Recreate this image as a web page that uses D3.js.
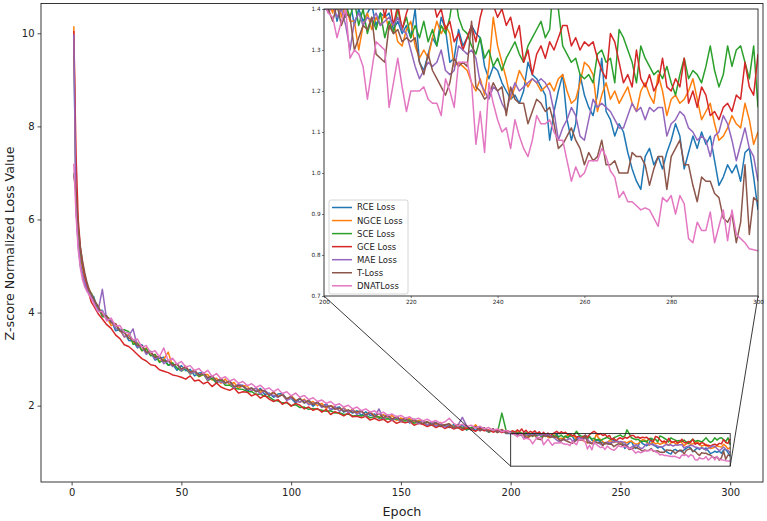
<!DOCTYPE html>
<html>
<head>
<meta charset="utf-8">
<script src="https://cdn.jsdelivr.net/npm/d3@7"></script>
<style>
body { margin: 0; background: #fff; }
text { font-family: "DejaVu Sans", sans-serif; fill: #222; }
</style>
</head>
<body>
<svg id="chart" width="767" height="521"></svg>
<script>
// legend names and matplotlib tab10 colours
var seriesNames = ["RCE Loss", "NGCE Loss", "SCE Loss", "GCE Loss", "MAE Loss", "T-Loss", "DNATLoss"];
var seriesColors = ["#1f77b4", "#ff7f0e", "#2ca02c", "#d62728", "#9467bd", "#8c564b", "#e377c2"];

// epochs 1-10 every epoch, then every 2nd epoch to 200, then every epoch to 300
var epochs = d3.range(1, 11).concat(d3.range(12, 201, 2), d3.range(201, 301));

var rceLoss = [
	9.72, 6.30, 5.45, 5.00, 4.85, 4.60, 4.50, 4.42, 4.30, 4.35,
	4.03, 4.05, 3.85, 3.84, 3.61, 3.63, 3.59, 3.40, 3.39, 3.24,
	3.31, 3.13, 3.15, 2.98, 3.02, 3.04, 2.87, 2.89, 2.76, 2.86,
	2.75, 2.78, 2.64, 2.70, 2.71, 2.57, 2.59, 2.48, 2.57, 2.49,
	2.53, 2.39, 2.44, 2.44, 2.31, 2.38, 2.30, 2.37, 2.24, 2.27,
	2.18, 2.25, 2.26, 2.14, 2.16, 2.06, 2.15, 2.06, 2.09, 1.99,
	2.06, 1.98, 2.04, 1.91, 1.95, 1.97, 1.86, 1.90, 1.84, 1.89,
	1.79, 1.87, 1.79, 1.82, 1.72, 1.80, 1.76, 1.69, 1.76, 1.68,
	1.72, 1.63, 1.71, 1.63, 1.67, 1.57, 1.63, 1.64, 1.55, 1.59,
	1.53, 1.59, 1.52, 1.58, 1.48, 1.53, 1.47, 1.53, 1.49, 1.43,
	1.49, 1.43, 1.48, 1.40, 1.40,
	1.40, 1.43, 1.37, 1.41, 1.38, 1.42, 1.36, 1.40, 1.37, 1.39,
	1.41, 1.36, 1.39, 1.38, 1.39, 1.35, 1.37, 1.34, 1.36, 1.33,
	1.40, 1.27, 1.25, 1.29, 1.33, 1.31, 1.38, 1.35, 1.27, 1.28,
	1.35, 1.31, 1.33, 1.36, 1.34, 1.33, 1.26, 1.23, 1.26, 1.25,
	1.22, 1.20, 1.18, 1.19, 1.17, 1.20, 1.27, 1.24, 1.23, 1.21,
	1.19, 1.08, 1.15, 1.20, 1.24, 1.13, 1.08, 1.12, 1.24, 1.19,
	1.16, 1.14, 1.19, 1.28, 1.15, 1.13, 1.09, 1.12, 1.10, 1.05,
	1.01, 0.98, 0.96, 1.04, 1.06, 1.02, 1.04, 1.01, 1.05, 1.08,
	1.12, 1.09, 1.01, 1.05, 1.09, 1.06, 1.10, 1.07, 1.09, 1.03,
	0.97, 0.99, 1.02, 1.00, 1.02, 0.98, 1.05, 1.06, 0.99, 0.91
];
var ngceLoss = [
	10.15, 6.55, 5.70, 5.20, 4.95, 4.75, 4.55, 4.50, 4.38, 4.25,
	4.15, 3.94, 3.91, 3.72, 3.76, 3.63, 3.47, 3.53, 3.35, 3.35,
	3.18, 3.24, 3.09, 3.10, 2.95, 3.00, 3.15, 2.85, 2.90, 2.78,
	2.85, 2.71, 2.75, 2.62, 2.67, 2.67, 2.55, 2.59, 2.48, 2.57,
	2.45, 2.50, 2.37, 2.43, 2.42, 2.31, 2.39, 2.29, 2.32, 2.23,
	2.29, 2.20, 2.23, 2.13, 2.21, 2.12, 2.07, 2.14, 2.04, 2.09,
	2.00, 2.05, 1.94, 2.00, 1.97, 1.89, 1.96, 1.86, 1.92, 1.84,
	1.88, 1.80, 1.86, 1.78, 1.74, 1.81, 1.73, 1.79, 1.68, 1.74,
	1.68, 1.73, 1.64, 1.68, 1.68, 1.59, 1.65, 1.59, 1.64, 1.55,
	1.61, 1.54, 1.60, 1.51, 1.55, 1.48, 1.59, 1.48, 1.52, 1.45,
	1.49, 1.43, 1.49, 1.42, 1.44,
	1.42, 1.39, 1.44, 1.38, 1.41, 1.37, 1.37, 1.30, 1.36, 1.39,
	1.35, 1.38, 1.36, 1.39, 1.35, 1.37, 1.32, 1.31, 1.35, 1.37,
	1.31, 1.28, 1.30, 1.28, 1.33, 1.37, 1.34, 1.36, 1.34, 1.26,
	1.27, 1.26, 1.25, 1.22, 1.20, 1.23, 1.19, 1.26, 1.38, 1.31,
	1.27, 1.23, 1.18, 1.21, 1.25, 1.23, 1.21, 1.23, 1.22, 1.20,
	1.21, 1.22, 1.20, 1.23, 1.24, 1.20, 1.17, 1.18, 1.22, 1.27,
	1.26, 1.24, 1.15, 1.19, 1.22, 1.18, 1.20, 1.17, 1.19, 1.21,
	1.17, 1.15, 1.20, 1.22, 1.19, 1.17, 1.24, 1.20, 1.14, 1.18,
	1.19, 1.17, 1.18, 1.20, 1.23, 1.18, 1.13, 1.15, 1.17, 1.12,
	1.08, 1.09, 1.11, 1.14, 1.12, 1.11, 1.17, 1.13, 1.07, 1.10
];
var sceLoss = [
	7.00, 6.60, 5.80, 5.30, 5.00, 4.80, 4.60, 4.45, 4.42, 4.30,
	4.13, 3.91, 3.91, 3.85, 3.67, 3.62, 3.63, 3.59, 3.32, 3.34,
	3.18, 3.22, 3.07, 3.10, 2.93, 2.98, 2.87, 2.92, 2.81, 2.74,
	2.80, 2.68, 2.72, 2.63, 2.68, 2.54, 2.59, 2.50, 2.55, 2.44,
	2.44, 2.38, 2.36, 2.35, 2.30, 2.30, 2.24, 2.25, 2.20, 2.19,
	2.12, 2.10, 2.06, 2.06, 2.00, 2.02, 1.96, 1.97, 1.92, 1.94,
	1.92, 1.90, 1.88, 1.89, 1.84, 1.85, 1.81, 1.82, 1.78, 1.79,
	1.78, 1.80, 1.74, 1.76, 1.76, 1.71, 1.72, 1.69, 1.72, 1.67,
	1.67, 1.69, 1.62, 1.66, 1.60, 1.65, 1.59, 1.56, 1.60, 1.56,
	1.58, 1.52, 1.58, 1.52, 1.48, 1.53, 1.55, 1.47, 1.51, 1.43,
	1.47, 1.43, 1.84, 1.45, 1.41,
	1.42, 1.45, 1.40, 1.43, 1.41, 1.38, 1.42, 1.36, 1.40, 1.34,
	1.38, 1.35, 1.39, 1.33, 1.37, 1.34, 1.40, 1.35, 1.38, 1.33,
	1.36, 1.33, 1.37, 1.32, 1.35, 1.31, 1.36, 1.34, 1.38, 1.45,
	1.38, 1.35, 1.34, 1.31, 1.29, 1.33, 1.28, 1.30, 1.26, 1.28,
	1.25, 1.28, 1.30, 1.32, 1.29, 1.27, 1.31, 1.33, 1.35, 1.37,
	1.33, 1.35, 1.48, 1.40, 1.31, 1.29, 1.27, 1.28, 1.24, 1.23,
	1.24, 1.22, 1.29, 1.30, 1.27, 1.28, 1.22, 1.35, 1.33, 1.30,
	1.27, 1.22, 1.31, 1.28, 1.26, 1.24, 1.25, 1.23, 1.26, 1.22,
	1.19, 1.24, 1.28, 1.23, 1.25, 1.24, 1.22, 1.26, 1.31, 1.25,
	1.21, 1.24, 1.31, 1.26, 1.30, 1.31, 1.27, 1.23, 1.31, 1.16
];
var gceLoss = [
	10.05, 7.40, 6.00, 5.40, 5.05, 4.78, 4.56, 4.38, 4.22, 4.15,
	3.98, 3.86, 3.74, 3.66, 3.52, 3.44, 3.31, 3.27, 3.19, 3.10,
	3.01, 2.96, 2.88, 2.86, 2.77, 2.74, 2.71, 2.66, 2.64, 2.61,
	2.57, 2.64, 2.53, 2.55, 2.47, 2.51, 2.41, 2.49, 2.40, 2.36,
	2.33, 2.38, 2.27, 2.30, 2.29, 2.21, 2.25, 2.16, 2.22, 2.14,
	2.09, 2.13, 2.03, 2.08, 1.99, 2.05, 2.01, 1.93, 1.97, 1.90,
	1.94, 1.86, 1.92, 1.81, 1.87, 1.83, 1.78, 1.84, 1.76, 1.77,
	1.74, 1.77, 1.69, 1.73, 1.68, 1.71, 1.64, 1.69, 1.62, 1.66,
	1.63, 1.66, 1.58, 1.62, 1.60, 1.55, 1.59, 1.53, 1.57, 1.51,
	1.55, 1.50, 1.53, 1.47, 1.52, 1.49, 1.45, 1.51, 1.46, 1.48,
	1.43, 1.47, 1.42, 1.46, 1.44,
	1.46, 1.42, 1.48, 1.44, 1.50, 1.43, 1.47, 1.41, 1.45, 1.42,
	1.46, 1.40, 1.44, 1.38, 1.43, 1.36, 1.41, 1.35, 1.39, 1.42,
	1.45, 1.40, 1.44, 1.41, 1.43, 1.38, 1.40, 1.35, 1.37, 1.32,
	1.34, 1.30, 1.33, 1.36, 1.32, 1.38, 1.42, 1.45, 1.41, 1.38,
	1.40, 1.36, 1.38, 1.33, 1.36, 1.27, 1.30, 1.24, 1.29, 1.31,
	1.28, 1.32, 1.30, 1.33, 1.36, 1.36, 1.31, 1.33, 1.30, 1.32,
	1.31, 1.32, 1.28, 1.25, 1.23, 1.34, 1.32, 1.27, 1.22, 1.24,
	1.21, 1.30, 1.23, 1.21, 1.24, 1.20, 1.22, 1.28, 1.21, 1.20,
	1.23, 1.21, 1.28, 1.17, 1.20, 1.16, 1.21, 1.19, 1.14, 1.15,
	1.13, 1.16, 1.17, 1.15, 1.19, 1.18, 1.27, 1.21, 1.19, 1.29
];
var maeLoss = [
	9.98, 6.20, 5.50, 5.05, 4.80, 4.65, 4.50, 4.40, 4.35, 4.25,
	4.02, 4.50, 3.83, 3.84, 3.66, 3.65, 3.48, 3.50, 3.65, 3.26,
	3.28, 3.10, 3.17, 3.00, 3.06, 2.90, 2.97, 2.84, 2.90, 2.75,
	2.83, 2.69, 2.72, 2.66, 2.70, 2.55, 2.64, 2.53, 2.51, 2.48,
	2.52, 2.38, 2.47, 2.41, 2.36, 2.33, 2.38, 2.24, 2.33, 2.25,
	2.22, 2.18, 2.25, 2.11, 2.17, 2.10, 2.08, 2.12, 2.02, 2.05,
	2.06, 1.96, 2.02, 1.92, 1.98, 1.88, 1.94, 1.85, 1.91, 1.81,
	1.88, 1.78, 1.85, 1.75, 1.93, 1.72, 1.78, 1.69, 1.75, 1.66,
	1.73, 1.64, 1.70, 1.61, 1.68, 1.58, 1.65, 1.56, 1.62, 1.54,
	1.60, 1.52, 1.58, 1.75, 1.56, 1.49, 1.54, 1.46, 1.52, 1.44,
	1.50, 1.43, 1.48, 1.41, 1.44,
	1.39, 1.41, 1.38, 1.40, 1.36, 1.30, 1.37, 1.39, 1.36, 1.38,
	1.37, 1.39, 1.36, 1.37, 1.38, 1.36, 1.38, 1.35, 1.34, 1.30,
	1.26, 1.23, 1.25, 1.27, 1.26, 1.27, 1.30, 1.25, 1.24, 1.25,
	1.31, 1.30, 1.29, 1.30, 1.28, 1.22, 1.20, 1.18, 1.21, 1.20,
	1.17, 1.15, 1.19, 1.22, 1.20, 1.21, 1.22, 1.23, 1.22, 1.23,
	1.22, 1.20, 1.15, 1.08, 1.11, 1.13, 1.16, 1.14, 1.09, 1.08,
	1.13, 1.18, 1.16, 1.17, 1.16, 1.15, 1.13, 1.11, 1.11, 1.14,
	1.17, 1.15, 1.16, 1.13, 1.16, 1.15, 1.16, 1.16, 1.09, 1.12,
	1.13, 1.15, 1.14, 1.11, 1.10, 1.08, 1.09, 1.08, 1.04, 1.09,
	1.10, 1.14, 1.12, 1.08, 1.03, 1.07, 1.11, 1.06, 1.04, 0.98
];
var tLoss = [
	6.95, 6.60, 5.85, 5.40, 5.10, 4.85, 4.65, 4.50, 4.40, 4.30,
	4.13, 3.95, 3.93, 3.78, 3.76, 3.60, 3.57, 3.45, 3.42, 3.29,
	3.29, 3.15, 3.16, 3.04, 3.06, 2.95, 2.97, 2.87, 2.89, 2.79,
	2.83, 2.72, 2.76, 2.66, 2.70, 2.60, 2.64, 2.53, 2.58, 2.49,
	2.53, 2.41, 2.43, 2.42, 2.35, 2.38, 2.30, 2.34, 2.31, 2.22,
	2.29, 2.19, 2.24, 2.15, 2.20, 2.10, 2.16, 2.06, 2.12, 2.02,
	2.08, 1.99, 1.97, 2.00, 1.92, 1.95, 1.88, 1.91, 1.86, 1.87,
	1.89, 1.80, 1.86, 1.76, 1.83, 1.74, 1.80, 1.71, 1.77, 1.68,
	1.74, 1.66, 1.68, 1.65, 1.62, 1.66, 1.59, 1.63, 1.57, 1.59,
	1.61, 1.52, 1.59, 1.50, 1.57, 1.48, 1.55, 1.46, 1.52, 1.44,
	1.50, 1.42, 1.48, 1.41, 1.43,
	1.40, 1.37, 1.41, 1.36, 1.39, 1.38, 1.30, 1.33, 1.36, 1.35,
	1.38, 1.29, 1.28, 1.27, 1.36, 1.34, 1.35, 1.32, 1.33, 1.32,
	1.33, 1.27, 1.24, 1.29, 1.25, 1.23, 1.21, 1.19, 1.22, 1.28,
	1.26, 1.27, 1.26, 1.37, 1.21, 1.20, 1.18, 1.19, 1.22, 1.20,
	1.21, 1.14, 1.21, 1.18, 1.17, 1.17, 1.12, 1.15, 1.18, 1.17,
	1.15, 1.16, 1.12, 1.06, 1.07, 1.09, 1.11, 1.08, 1.06, 1.02,
	1.05, 1.03, 1.04, 1.08, 1.02, 1.02, 1.03, 1.00, 1.00, 1.00,
	1.05, 1.04, 1.04, 1.02, 0.97, 1.01, 1.04, 1.04, 0.96, 1.04,
	1.06, 1.08, 1.02, 1.02, 0.97, 0.93, 0.99, 0.98, 0.98, 0.95,
	0.94, 0.89, 0.88, 0.90, 0.83, 0.88, 1.02, 0.85, 0.94, 0.93
];
var dnatLoss = [
	7.20, 6.10, 5.35, 4.95, 4.70, 4.55, 4.45, 4.38, 4.30, 4.20,
	4.02, 4.03, 3.82, 3.88, 3.71, 3.72, 3.58, 3.56, 3.41, 3.43,
	3.26, 3.29, 3.14, 3.18, 3.05, 3.24, 2.96, 3.02, 2.89, 2.95,
	2.83, 2.86, 2.75, 2.80, 2.69, 2.76, 2.63, 2.69, 2.58, 2.62,
	2.53, 2.57, 2.48, 2.52, 2.43, 2.47, 2.39, 2.44, 2.35, 2.38,
	2.30, 2.36, 2.26, 2.30, 2.21, 2.27, 2.18, 2.22, 2.13, 2.17,
	2.09, 2.12, 2.05, 2.09, 2.01, 2.04, 1.97, 2.01, 1.93, 1.97,
	1.89, 1.93, 1.86, 1.89, 1.82, 1.86, 1.79, 1.82, 1.76, 1.79,
	1.73, 1.76, 1.70, 1.73, 1.67, 1.71, 1.65, 1.68, 1.62, 1.65,
	1.73, 1.62, 1.57, 1.60, 1.55, 1.58, 1.52, 1.56, 1.50, 1.53,
	1.47, 1.50, 1.44, 1.47, 1.41,
	1.39, 1.38, 1.33, 1.37, 1.40, 1.28, 1.30, 1.29, 1.26, 1.18,
	1.25, 1.32, 1.31, 1.30, 1.16, 1.22, 1.28, 1.21, 1.15, 1.20,
	1.20, 1.20, 1.21, 1.18, 1.17, 1.17, 1.14, 1.23, 1.20, 1.16,
	1.27, 1.27, 1.27, 1.22, 1.07, 1.15, 1.05, 1.22, 1.17, 1.13,
	1.10, 1.11, 1.06, 1.13, 1.09, 1.06, 1.04, 1.08, 1.14, 1.12,
	1.12, 1.13, 1.10, 1.08, 1.08, 1.03, 0.98, 1.015, 0.99, 1.00,
	1.03, 1.03, 1.03, 1.06, 1.04, 1.005, 0.99, 0.94, 0.955, 0.93,
	0.93, 0.92, 0.91, 0.915, 0.91, 0.89, 0.87, 0.94, 0.93, 0.945,
	0.90, 0.945, 0.925, 0.84, 0.83, 0.88, 0.86, 0.86, 0.905, 0.83,
	0.87, 0.91, 0.835, 0.91, 0.85, 0.84, 0.83, 0.815, 0.813, 0.81
];

var xTicks = [0, 50, 100, 150, 200, 250, 300];
var yTicks = [2, 4, 6, 8, 10];
var zoomXTicks = [200, 220, 240, 260, 280, 300];
var zoomYTicks = [0.7, 0.8, 0.9, 1.0, 1.1, 1.2, 1.3, 1.4];
var zoomEpochs = [200, 300];
var zoomLoss = [0.7, 1.4];

var lossSeries = [rceLoss, ngceLoss, sceLoss, gceLoss, maeLoss, tLoss, dnatLoss].map(function(values, i) {
	return { name: seriesNames[i], color: seriesColors[i], values: values };
});

var svg = d3.select("#chart");

// main axes box
var plot = { left: 41, right: 763, top: 3.5, bottom: 482 };
var xScale = d3.scaleLinear().domain([-13.95, 314.95]).range([plot.left, plot.right]);
var yScale = d3.scaleLinear().domain([0.36, 10.64]).range([plot.bottom, plot.top]);

var line = d3.line()
	.x(function(d, i) { return xScale(epochs[i]); })
	.y(function(d) { return yScale(d); });

svg.append("g")
	.selectAll("path")
	.data(lossSeries)
	.enter()
	.append("path")
	.attr("fill", "none")
	.attr("stroke", function(s) { return s.color; })
	.attr("stroke-width", 1.5)
	.attr("stroke-linejoin", "round")
	.attr("d", function(s) { return line(s.values); });

svg.append("g")
	.attr("class", "x axis")
	.attr("transform", "translate(0," + plot.bottom + ")")
	.call(d3.axisBottom(xScale).tickValues(xTicks).tickSizeOuter(0).tickSizeInner(3.5).tickPadding(3));

svg.append("g")
	.attr("class", "y axis")
	.attr("transform", "translate(" + plot.left + ",0)")
	.call(d3.axisLeft(yScale).tickValues(yTicks).tickSizeOuter(0).tickSizeInner(3.5).tickPadding(3));

svg.selectAll(".axis .domain").remove();
svg.selectAll(".axis line").attr("stroke", "#222").attr("stroke-width", 0.8);
svg.selectAll(".axis text").style("font-size", "10px").attr("fill", "#222");

svg.append("rect")
	.attr("x", plot.left).attr("y", plot.top)
	.attr("width", plot.right - plot.left).attr("height", plot.bottom - plot.top)
	.attr("fill", "none").attr("stroke", "#222").attr("stroke-width", 0.9);

svg.append("text")
	.attr("x", (plot.left + plot.right) / 2)
	.attr("y", 516)
	.attr("text-anchor", "middle")
	.style("font-size", "12.7px")
	.text("Epoch");

svg.append("text")
	.attr("transform", "translate(14," + 243.5 + ") rotate(-90)")
	.attr("text-anchor", "middle")
	.style("font-size", "12.7px")
	.text("Z-score Normalized Loss Value");

// zoomed window marked on the main plot
var zx0 = xScale(zoomEpochs[0]), zx1 = xScale(zoomEpochs[1]);
var zy0 = yScale(zoomLoss[0]), zy1 = yScale(zoomLoss[1]);
svg.append("rect")
	.attr("x", zx0).attr("y", zy1)
	.attr("width", zx1 - zx0).attr("height", zy0 - zy1)
	.attr("fill", "none").attr("stroke", "#222").attr("stroke-width", 0.9);

// inset
var inset = { left: 324, right: 758, top: 9, bottom: 296 };
var xInset = d3.scaleLinear().domain(zoomEpochs).range([inset.left, inset.right]);
var yInset = d3.scaleLinear().domain(zoomLoss).range([inset.bottom, inset.top]);

// connector lines from window corners to inset corners
svg.append("line")
	.attr("x1", zx0).attr("y1", zy0).attr("x2", inset.left).attr("y2", inset.bottom)
	.attr("stroke", "#222").attr("stroke-width", 0.9);
svg.append("line")
	.attr("x1", zx1).attr("y1", zy0).attr("x2", inset.right).attr("y2", inset.bottom)
	.attr("stroke", "#222").attr("stroke-width", 0.9);

svg.append("rect")
	.attr("x", inset.left).attr("y", inset.top)
	.attr("width", inset.right - inset.left).attr("height", inset.bottom - inset.top)
	.attr("fill", "#fff");

svg.append("clipPath").attr("id", "inset-clip")
	.append("rect")
	.attr("x", inset.left).attr("y", inset.top)
	.attr("width", inset.right - inset.left).attr("height", inset.bottom - inset.top);

var insetLine = d3.line()
	.x(function(d, i) { return xInset(epochs[i]); })
	.y(function(d) { return yInset(d); });

svg.append("g")
	.attr("clip-path", "url(#inset-clip)")
	.selectAll("path")
	.data(lossSeries)
	.enter()
	.append("path")
	.attr("fill", "none")
	.attr("stroke", function(s) { return s.color; })
	.attr("stroke-width", 1.5)
	.attr("stroke-linejoin", "round")
	.attr("d", function(s) { return insetLine(s.values); });

svg.append("g")
	.attr("class", "inset-axis")
	.attr("transform", "translate(0," + inset.bottom + ")")
	.call(d3.axisBottom(xInset).tickValues(zoomXTicks).tickSizeOuter(0).tickSizeInner(2).tickPadding(1.5));

svg.append("g")
	.attr("class", "inset-axis")
	.attr("transform", "translate(" + inset.left + ",0)")
	.call(d3.axisLeft(yInset).tickValues(zoomYTicks).tickFormat(d3.format(".1f")).tickSizeOuter(0).tickSizeInner(2).tickPadding(1.5));

svg.selectAll(".inset-axis .domain").remove();
svg.selectAll(".inset-axis line").attr("stroke", "#222").attr("stroke-width", 0.6);
svg.selectAll(".inset-axis text").style("font-size", "5.7px").attr("fill", "#222");

svg.append("rect")
	.attr("x", inset.left).attr("y", inset.top)
	.attr("width", inset.right - inset.left).attr("height", inset.bottom - inset.top)
	.attr("fill", "none").attr("stroke", "#222").attr("stroke-width", 0.9);

// legend, lower left of the inset
var legend = svg.append("g").attr("transform", "translate(329,200)");
legend.append("rect")
	.attr("width", 79).attr("height", 94).attr("rx", 2)
	.attr("fill", "#fff").attr("fill-opacity", 0.8)
	.attr("stroke", "#ccc").attr("stroke-width", 0.8);

var entries = legend.selectAll(".entry")
	.data(lossSeries)
	.enter()
	.append("g")
	.attr("transform", function(s, i) { return "translate(0," + (7.5 + i * 13.05) + ")"; });

entries.append("line")
	.attr("x1", 3).attr("x2", 23)
	.attr("stroke", function(s) { return s.color; })
	.attr("stroke-width", 1.5);

entries.append("text")
	.attr("x", 28)
	.attr("dy", "0.35em")
	.style("font-size", "8.5px")
	.text(function(s) { return s.name; });
</script>
</body>
</html>
